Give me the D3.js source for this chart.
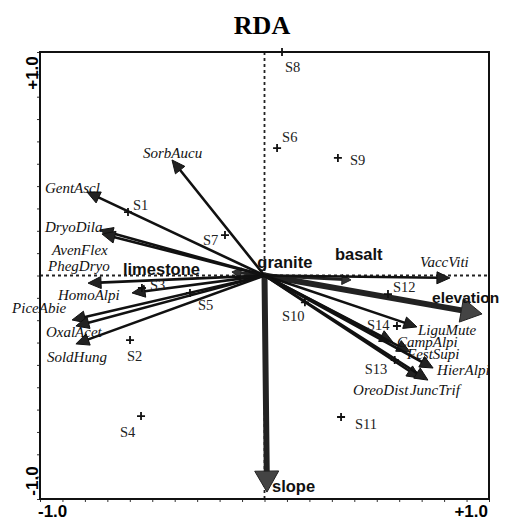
<!DOCTYPE html>
<html><head><meta charset="utf-8">
<script src="https://cdn.jsdelivr.net/npm/d3@7/dist/d3.min.js"></script>
<style>body{margin:0;background:#fff}svg{display:block}</style>
</head><body>
<svg id="c" width="509" height="521"></svg>
<script>
// ---- data ----
const speciesNames = ["SorbAucu","GentAscl","DryoDila","AvenFlex","PhegDryo","HomoAlpi","PiceAbie","OxalAcet","SoldHung","VaccViti","LiguMute","CampAlpi","FestSupi","HierAlpi","OreoDist","JuncTrif"];
const speciesAx1 = [-0.412,-0.791,-0.733,-0.724,-0.786,-0.590,-0.857,-0.840,-0.840,0.826,0.679,0.572,0.648,0.751,0.693,0.728];
const speciesAx2 = [0.517,0.374,0.204,0.186,-0.034,-0.078,-0.199,-0.226,-0.306,-0.011,-0.230,-0.298,-0.342,-0.414,-0.459,-0.468];

const envNames = ["elevation","slope","basalt","granite","limestone"];
const envAx1 = [0.969,0.011,0.385,0.035,-0.145];
const envAx2 = [-0.172,-0.969,-0.02,0.02,0.016];

const siteNames = ["S1","S2","S3","S4","S5","S6","S7","S8","S9","S10","S11","S12","S13","S14"];
const siteAx1 = [-0.608,-0.599,-0.546,-0.550,-0.332,0.056,-0.176,0.078,0.327,0.18,0.341,0.550,0.58,0.590];
const siteAx2 = [0.284,-0.289,-0.056,-0.629,-0.078,0.570,0.181,1.0,0.526,-0.12,-0.633,-0.083,-0.378,-0.226];

const axisDomain = [-1, 1];
const axisTickLabels = ["-1.0", "+1.0"];
const title = "RDA";

// ---- layout (pixel offsets for labels) ----
const speciesLabelOff = {SorbAucu:[-29,-2],GentAscl:[-42,1],DryoDila:[-55,2],AvenFlex:[-50,21],PhegDryo:[-40,-12],HomoAlpi:[-74,7],PiceAbie:[-60,-7],OxalAcet:[-30,11],SoldHung:[-29,18],VaccViti:[-30,-11],LiguMute:[1,8],CampAlpi:[4,5],FestSupi:[-3,7],HierAlpi:[4,7],OreoDist:[-67,17],JuncTrif:[-18,15]};
const envLabelOff = {elevation:[-50,-11],slope:[5,0],basalt:[-16,-20],granite:[-15,-3],limestone:[-109,3]};
const siteLabelOff = {S1:[5,-2],S2:[-3,21],S3:[8,2],S4:[-21,21],S5:[8,17],S6:[5,-6],S7:[-22,10],S8:[3,20],S9:[12,7],S10:[-23,19],S11:[14,12],S12:[5,-2],S13:[-30,14],S14:[-30,4]};

const svg = d3.select("#c");
const x = d3.scaleLinear().domain(axisDomain).range([40, 489]);
const y = d3.scaleLinear().domain(axisDomain).range([499, 52]);

// title
svg.append("text").attr("x", 262).attr("y", 34).attr("text-anchor","middle")
  .attr("font-family","Liberation Serif").attr("font-weight","bold").attr("font-size",26).text(title);

// dashed axes through origin
svg.append("line").attr("x1",x(0)).attr("x2",x(0)).attr("y1",y(1)).attr("y2",y(-1))
  .attr("stroke","#222").attr("stroke-width",1.8).attr("stroke-dasharray","3,3");
svg.append("line").attr("x1",x(-1)).attr("x2",x(1)).attr("y1",y(0)).attr("y2",y(0))
  .attr("stroke","#222").attr("stroke-width",1.8).attr("stroke-dasharray","3,3");

// ticks
const tickVals = d3.range(-10, 11).map(i => i / 10);
svg.append("g").attr("transform",`translate(0,${y(-1)})`)
  .call(d3.axisBottom(x).tickValues(tickVals).tickSize(3).tickFormat(""))
  .call(g => { g.select(".domain").remove(); g.selectAll("line").attr("stroke","#333"); });
svg.append("g").attr("transform",`translate(${x(-1)},0)`)
  .call(d3.axisLeft(y).tickValues(tickVals).tickSize(3).tickFormat(""))
  .call(g => { g.select(".domain").remove(); g.selectAll("line").attr("stroke","#333"); });

// frame
svg.append("rect").attr("x",x(-1)).attr("y",y(1)).attr("width",x(1)-x(-1)).attr("height",y(-1)-y(1))
  .attr("fill","none").attr("stroke","#111").attr("stroke-width",2);

// axis labels
const axFont = {"font-family":"Liberation Sans","font-weight":"bold","font-size":17};
function applyAttrs(sel, o){ for(const k in o) sel.attr(k,o[k]); return sel; }
applyAttrs(svg.append("text").attr("x",38).attr("y",517).text(axisTickLabels[0]), axFont);
applyAttrs(svg.append("text").attr("x",488).attr("y",517).attr("text-anchor","end").text(axisTickLabels[1]), axFont);
applyAttrs(svg.append("text").attr("transform","translate(38,73) rotate(-90)").attr("text-anchor","middle").text(axisTickLabels[1]), axFont);
applyAttrs(svg.append("text").attr("transform","translate(38,481) rotate(-90)").attr("text-anchor","middle").text(axisTickLabels[0]), axFont);

// arrow helper
function arrow(g, tx, ty, opt){
  const ox = x(0), oy = y(0);
  const dx = tx-ox, dy = ty-oy, len = Math.hypot(dx,dy);
  const ux = dx/len, uy = dy/len, px = -uy, py = ux;
  const L = Math.min(opt.headL, len*0.9), W = opt.headW;
  const bx = tx-ux*L, by = ty-uy*L;
  g.append("line").attr("x1",ox).attr("y1",oy).attr("x2",bx+ux*2).attr("y2",by+uy*2)
    .attr("stroke",opt.stroke).attr("stroke-width",opt.width).attr("stroke-linecap","round");
  g.append("path").attr("d",`M${tx},${ty}L${bx+px*W},${by+py*W}L${bx-px*W},${by-py*W}Z`)
    .attr("fill",opt.fill).attr("stroke",opt.stroke).attr("stroke-width",1).attr("stroke-linejoin","round");
}

const gEnv = svg.append("g");
const gSp = svg.append("g");

// environmental arrows
envNames.forEach((n,i) => {
  const tx = x(envAx1[i]), ty = y(envAx2[i]);
  const big = (n === "elevation" || n === "slope");
  if (n !== "granite") {
    arrow(gEnv, tx, ty, big ? {headL:21, headW:12, width:6, stroke:"#222", fill:"#444"}
                            : {headL:9, headW:5, width:3, stroke:"#222", fill:"#333"});
  }
});

// species arrows
speciesNames.forEach((n,i) => {
  arrow(gSp, x(speciesAx1[i]), y(speciesAx2[i]), {headL:13, headW:6, width:2.6, stroke:"#111", fill:"#222"});
});

// env labels
envNames.forEach((n,i) => {
  const o = envLabelOff[n];
  svg.append("text").attr("x",x(envAx1[i])+o[0]).attr("y",y(envAx2[i])+o[1])
    .attr("font-family","Liberation Sans").attr("font-weight","bold")
    .attr("font-size", n === "elevation" ? 15.5 : 16.5)
    .attr("fill","#111").text(n);
});

// species labels
speciesNames.forEach((n,i) => {
  const o = speciesLabelOff[n];
  svg.append("text").attr("x",x(speciesAx1[i])+o[0]).attr("y",y(speciesAx2[i])+o[1])
    .attr("font-family","Liberation Serif").attr("font-style","italic").attr("font-size",15)
    .attr("fill","#111").text(n);
});

// sites
siteNames.forEach((n,i) => {
  const cx = x(siteAx1[i]), cy = y(siteAx2[i]);
  svg.append("path").attr("d",`M${cx-4},${cy}H${cx+4}M${cx},${cy-4}V${cy+4}`)
    .attr("stroke","#111").attr("stroke-width",1.8);
  const o = siteLabelOff[n];
  svg.append("text").attr("x",cx+o[0]).attr("y",cy+o[1])
    .attr("font-family","Liberation Serif").attr("font-size",14.5).attr("fill","#222").text(n);
});
</script>
</body></html>
